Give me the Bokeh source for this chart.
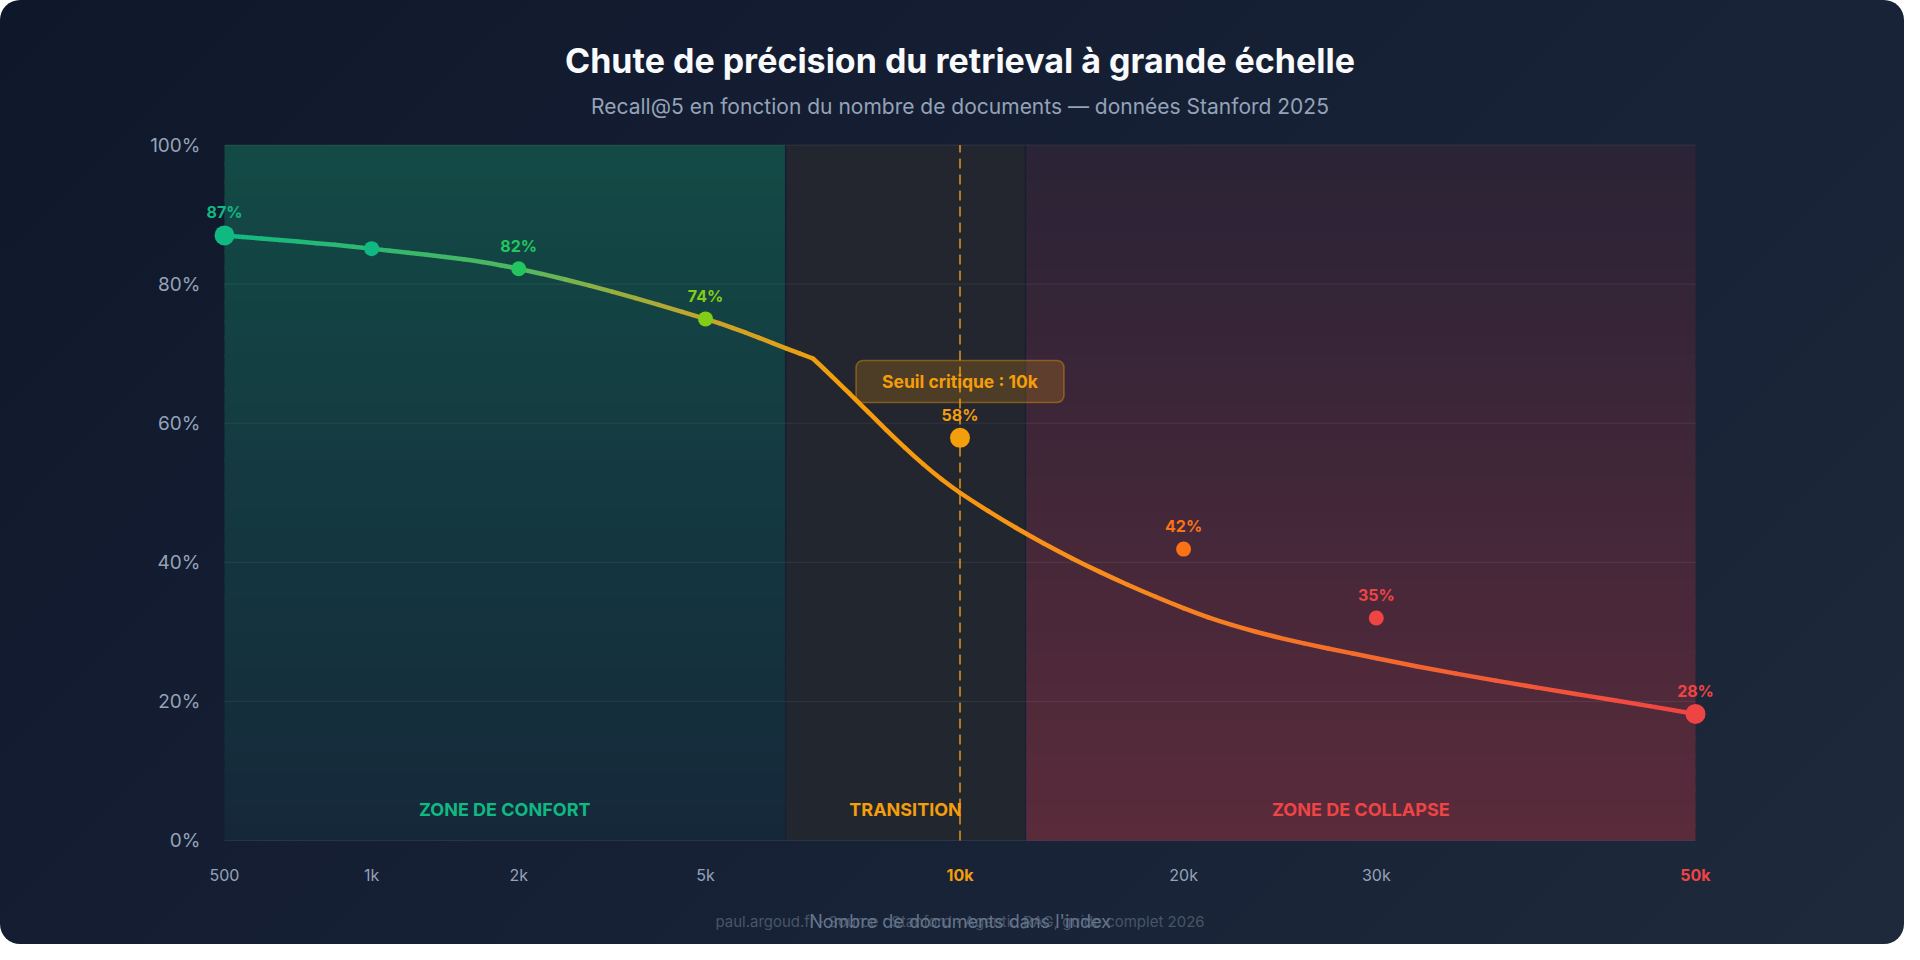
import numpy as np
from bokeh.plotting import figure
from bokeh.models import Range1d, ColumnDataSource, BoxAnnotation
from bokeh.core.properties import value, field
from bokeh.embed import file_html
from bokeh.resources import INLINE

# ---------------- data ----------------
doc_labels = ["500", "1k", "2k", "5k", "10k", "20k", "30k", "50k"]
# position of each category on the (non-uniform) x axis, 0..100
doc_axis_pos = [0, 10, 20, 32.7, 50, 65.2, 78.3, 100]
recall_points = [87.0, 85.1, 82.2, 75.0, 57.9, 41.9, 32.0, 18.2]
recall_labels = ["87%", "", "82%", "74%", "58%", "42%", "35%", "28%"]

curve_pos = [0, 10, 20, 32.7, 40, 50, 65.2, 78.3, 100]
curve_recall = [87.0, 85.1, 82.2, 75.0, 69.3, 50.0, 33.4, 26.2, 18.2]
curve_kink = 4

y_ticks = [0, 20, 40, 60, 80, 100]
y_tick_labels = ["0%", "20%", "40%", "60%", "80%", "100%"]

zone_names = ["ZONE DE CONFORT", "TRANSITION", "ZONE DE COLLAPSE"]
zone_start = [0, 38.2, 54.5]
zone_end = [38.1, 54.4, 100]

threshold_pos = 50
threshold_text = "Seuil critique : 10k"
threshold_box_y = 66.0

title = "Chute de précision du retrieval à grande échelle"
subtitle = "Recall@5 en fonction du nombre de documents — données Stanford 2025"
x_title = "Nombre de documents dans l'index"
footer = "paul.argoud.fr · Source : Stanford · Agentic RAG, guide complet 2026"

# ---------------- styles ----------------
FONT = value("Inter")
point_colors = ["#10b981", "#10b981", "#22c55e", "#84cc16", "#f59e0b", "#f97316", "#ef4444", "#ef4444"]
point_sizes = [20, 15, 15, 15, 20, 15, 15, 20]
tick_colors = ["#94a3b8"] * 4 + ["#f59e0b"] + ["#94a3b8"] * 2 + ["#ef4444"]
tick_styles = ["normal"] * 4 + ["bold"] + ["normal"] * 2 + ["bold"]
zone_text_colors = ["#10b981", "#f59e0b", "#ef4444"]
zone_top = ["#134a46", "#23252f", "#2a2336"]
zone_bottom = ["#15283a", "#22262f", "#5a2b3b"]
line_stops = [(0, "#10b981"), (20, "#4fb760"), (27, "#9aae3c"), (33, "#c8a42a"),
              (42, "#f59e0b"), (58, "#f8901a"), (78, "#f46a2c"), (100, "#ef4444")]

# ---------------- layout ----------------
W, H = 1904, 944
FX0, FX100 = 224.0, 1695.0   # px of x=0 and x=100
FY0, FY100 = 840.0, 144.5    # px (from top) of y=0 and y=100
ux = (FX100 - FX0) / 100.0
uy = (FY0 - FY100) / 100.0
x_range = Range1d(-FX0 / ux, (W - FX0) / ux)
y_range = Range1d(-(H - FY0) / uy, 100 + FY100 / uy)


def hex2rgb(h):
    h = h.lstrip("#")
    return np.array([int(h[i:i + 2], 16) for i in (0, 2, 4)], dtype=float)


def rgb2hex(c):
    c = np.clip(np.round(c), 0, 255).astype(int)
    return "#%02x%02x%02x" % tuple(c)


def mix(a, b, t):
    return rgb2hex(hex2rgb(a) * (1 - t) + hex2rgb(b) * t)


def grad_color(x):
    for (xa, ca), (xb, cb) in zip(line_stops[:-1], line_stops[1:]):
        if x <= xb:
            return mix(ca, cb, (x - xa) / (xb - xa))
    return line_stops[-1][1]


p = figure(width=W, height=H, x_range=x_range, y_range=y_range,
           output_backend="svg", toolbar_location=None,
           x_axis_location=None, y_axis_location=None, min_border=0)
p.title.visible = False
p.grid.visible = False
p.outline_line_color = None
p.background_fill_alpha = 0
p.border_fill_alpha = 0
p.styles = {"background": "linear-gradient(135deg, #0f172a 0%, #172136 55%, #1e293b 100%)",
            "border-radius": "20px", "overflow": "hidden"}

# zones with vertical gradient (bands overlap slightly to avoid seams)
nb = 40
L, R, B, T, C = [], [], [], [], []
for zs, ze, ct, cb in zip(zone_start, zone_end, zone_top, zone_bottom):
    for k in range(nb):
        L.append(zs); R.append(ze)
        B.append(max(0.0, 100 - (k + 1) * 100 / nb - 0.6)); T.append(100 - k * 100 / nb)
        C.append(mix(ct, cb, (k + 0.5) / nb))
p.quad(left=L, right=R, bottom=B, top=T, fill_color=C, line_color=None)

# grid lines
p.segment(x0=[0] * len(y_ticks), x1=[100] * len(y_ticks), y0=y_ticks, y1=y_ticks,
          line_color="#ffffff", line_alpha=0.08, line_width=1)

# zone labels
p.text(x=[(a + b) / 2 for a, b in zip(zone_start, zone_end)], y=[0] * 3, text=zone_names,
       y_offset=-31, text_align="center", text_baseline="middle",
       text_font=FONT, text_font_size="18px", text_font_style="bold",
       text_color=zone_text_colors)

# threshold dashed line, box, text
p.segment(x0=[threshold_pos], x1=[threshold_pos], y0=[0], y1=[100],
          line_color="#f59e0b", line_alpha=0.7, line_width=2, line_dash="10 6")
half_w, half_h = 104 / ux, 21 / uy
p.add_layout(BoxAnnotation(left=threshold_pos - half_w, right=threshold_pos + half_w,
                           bottom=threshold_box_y - half_h, top=threshold_box_y + half_h,
                           fill_color="#f59e0b", fill_alpha=0.2,
                           line_color="#f59e0b", line_alpha=0.4, line_width=1.5,
                           border_radius=7))
p.text(x=[threshold_pos], y=[threshold_box_y], text=[threshold_text],
       text_align="center", text_baseline="middle",
       text_font=FONT, text_font_size="17.5px", text_font_style="bold", text_color="#f59e0b")

# smooth curve (cubic Hermite -> bezier pieces, coloured along a gradient)
cx = np.array(curve_pos, dtype=float)
cy = np.array(curve_recall, dtype=float)
n = len(cx)
sec = np.diff(cy) / np.diff(cx)
m_left = np.zeros(n)
m_right = np.zeros(n)
for i in range(n):
    if i == 0:
        m = sec[0]
    elif i == n - 1:
        m = sec[-1]
    else:
        m = (cy[i + 1] - cy[i - 1]) / (cx[i + 1] - cx[i - 1])
    m_left[i] = m
    m_right[i] = m
m_left[curve_kink] = sec[curve_kink - 1]
m_right[curve_kink] = sec[curve_kink]

bz = dict(x0=[], y0=[], x1=[], y1=[], cx0=[], cy0=[], cx1=[], cy1=[], c=[])
sub = 8
for i in range(n - 1):
    x0, x1, y0, y1 = cx[i], cx[i + 1], cy[i], cy[i + 1]
    h = x1 - x0
    m0, m1 = m_right[i], m_left[i + 1]

    def Y(t):
        return ((2 * t**3 - 3 * t**2 + 1) * y0 + (t**3 - 2 * t**2 + t) * h * m0
                + (-2 * t**3 + 3 * t**2) * y1 + (t**3 - t**2) * h * m1)

    def dY(t):
        return ((6 * t**2 - 6 * t) * y0 + (3 * t**2 - 4 * t + 1) * h * m0
                + (-6 * t**2 + 6 * t) * y1 + (3 * t**2 - 2 * t) * h * m1)

    for k in range(sub):
        ta, tb = k / sub, (k + 1) / sub
        dt = tb - ta
        xa, xb = x0 + h * ta, x0 + h * tb
        ya, yb = Y(ta), Y(tb)
        bz["x0"].append(xa); bz["y0"].append(ya)
        bz["x1"].append(xb); bz["y1"].append(yb)
        bz["cx0"].append(xa + h * dt / 3); bz["cy0"].append(ya + dY(ta) * dt / 3)
        bz["cx1"].append(xb - h * dt / 3); bz["cy1"].append(yb - dY(tb) * dt / 3)
        bz["c"].append(grad_color((xa + xb) / 2))
p.bezier(x0="x0", y0="y0", x1="x1", y1="y1", cx0="cx0", cy0="cy0", cx1="cx1", cy1="cy1",
         source=ColumnDataSource(bz), line_color=field("c"), line_width=4.5, line_cap="round")

# points and value labels
pts = ColumnDataSource(dict(x=doc_axis_pos, y=recall_points, lab=recall_labels,
                            col=point_colors, size=point_sizes))
p.scatter(x="x", y="y", size="size", fill_color=field("col"), line_color=None, source=pts)
p.text(x="x", y="y", text="lab", source=pts, y_offset=-23,
       text_align="center", text_baseline="middle",
       text_font=FONT, text_font_size="16px", text_font_style="bold", text_color=field("col"))

# y tick labels
p.text(x=[0] * len(y_ticks), y=y_ticks, text=y_tick_labels, x_offset=-24,
       text_align="right", text_baseline="middle",
       text_font=FONT, text_font_size="19px", text_color="#94a3b8")

# x tick labels
xt = ColumnDataSource(dict(x=doc_axis_pos, y=[0] * len(doc_labels), t=doc_labels,
                           c=tick_colors, s=tick_styles))
p.text(x="x", y="y", text="t", source=xt, y_offset=34,
       text_align="center", text_baseline="middle",
       text_font=FONT, text_font_size="16px", text_font_style=field("s"), text_color=field("c"))

# footer and axis title (overlapping, as in the reference)
p.text(x=[50], y=[0], text=[footer], y_offset=81, text_align="center", text_baseline="middle",
       text_font=FONT, text_font_size="15px", text_color="#475569")
p.text(x=[50], y=[0], text=[x_title], y_offset=81, text_align="center", text_baseline="middle",
       text_font=FONT, text_font_size="18px", text_color="#64748b")

# title and subtitle
p.text(x=[50], y=[100], text=[title], y_offset=-84.5, text_align="center",
       text_baseline="alphabetic", text_font=FONT, text_font_size="34px",
       text_font_style="bold", text_color="#f8fafc")
p.text(x=[50], y=[100], text=[subtitle], y_offset=-39, text_align="center",
       text_baseline="alphabetic", text_font=FONT, text_font_size="21px", text_color="#94a3b8")

open("out.html", "w").write(file_html(p, INLINE))
